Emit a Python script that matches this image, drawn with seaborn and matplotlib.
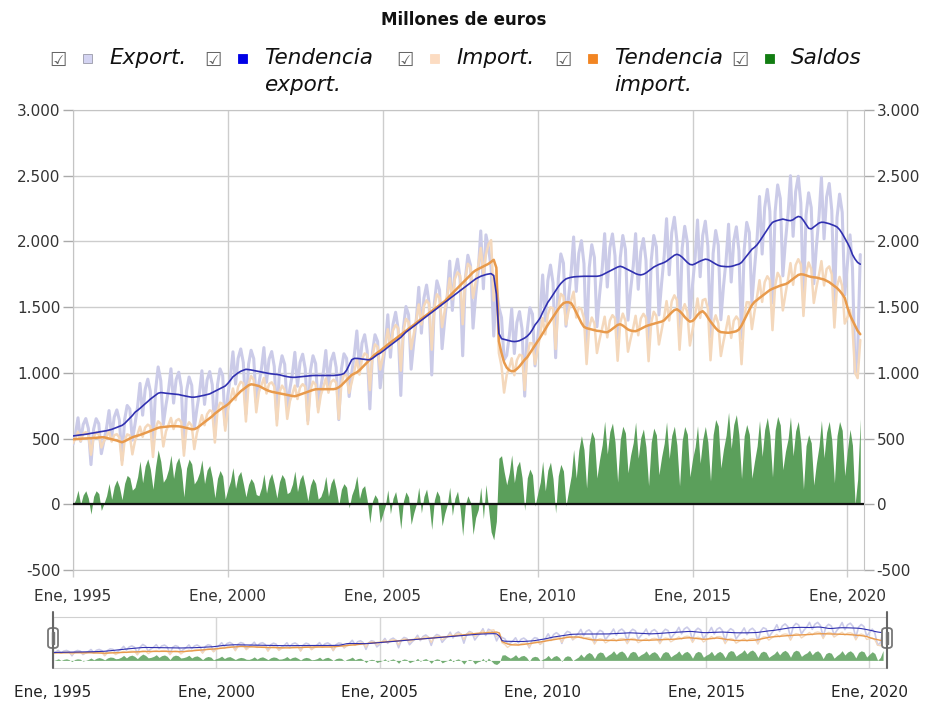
import pandas as pd
import numpy as np
import matplotlib.pyplot as plt
import matplotlib.dates as mdates
import seaborn as sns
from matplotlib.patches import Rectangle, FancyBboxPatch
from matplotlib.lines import Line2D
from matplotlib.ticker import FuncFormatter

# Datos mensuales en millones de euros, enero 1995 - junio 2020
export_mensual = [
    457, 544, 658, 479, 607, 652, 578, 302, 571, 651, 613, 385,
    486, 583, 713, 515, 663, 718, 640, 335, 646, 752, 725, 488,
    610, 745, 920, 678, 875, 952, 860, 475, 870, 1045, 940, 608,
    755, 873, 1031, 770, 948, 1005, 890, 426, 862, 968, 905, 575,
    728, 852, 1016, 760, 945, 1010, 910, 520, 910, 1030, 980, 600,
    830, 975, 1160, 915, 1110, 1182, 1080, 687, 1065, 1172, 1108, 774,
    920, 1036, 1192, 928, 1105, 1162, 1050, 648, 1025, 1130, 1065, 731,
    878, 996, 1156, 898, 1080, 1142, 1034, 636, 1018, 1130, 1070, 740,
    890, 1010, 1170, 910, 1090, 1150, 1042, 644, 1028, 1145, 1110, 820,
    1001, 1143, 1319, 1031, 1226, 1290, 1166, 726, 1154, 1290, 1239, 886,
    1048, 1219, 1442, 1119, 1368, 1461, 1333, 828, 1342, 1505, 1442, 1028,
    1229, 1412, 1651, 1302, 1569, 1668, 1529, 984, 1531, 1700, 1631, 1184,
    1400, 1595, 1850, 1475, 1760, 1865, 1715, 1130, 1715, 1895, 1820, 1340,
    1590, 1780, 2080, 1640, 2050, 1950, 1800, 1280, 1650, 1500, 1420, 1100,
    1133, 1284, 1487, 1147, 1383, 1466, 1333, 823, 1332, 1495, 1447, 1053,
    1255, 1465, 1745, 1395, 1702, 1820, 1685, 1115, 1715, 1905, 1835, 1355,
    1578, 1775, 2034, 1620, 1909, 2006, 1831, 1191, 1799, 1975, 1879, 1351,
    1594, 1793, 2059, 1653, 1951, 2057, 1891, 1261, 1875, 2045, 1939, 1401,
    1631, 1813, 2059, 1636, 1921, 2022, 1856, 1231, 1854, 2045, 1959, 1441,
    1679, 1891, 2173, 1746, 2067, 2184, 2004, 1317, 1948, 2115, 1993, 1417,
    1669, 1881, 2163, 1731, 2045, 2154, 1964, 1274, 1908, 2083, 1971, 1404,
    1657, 1859, 2131, 1691, 2002, 2111, 1929, 1262, 1933, 2145, 2068, 1532,
    1793, 2029, 2342, 1904, 2258, 2396, 2228, 1533, 2226, 2430, 2327, 1738,
    2003, 2214, 2500, 2039, 2378, 2496, 2293, 1548, 2202, 2370, 2257, 1678,
    1963, 2194, 2488, 2019, 2338, 2441, 2236, 1508, 2182, 2360, 2222, 1593,
    1830, 2050, 1800, 1000, 1150, 1900,
]

import_mensual = [
    465, 508, 551, 480, 536, 549, 532, 377, 511, 548, 532, 432,
    480, 517, 554, 477, 526, 533, 508, 300, 486, 532, 524, 380,
    482, 536, 591, 514, 584, 606, 593, 360, 581, 631, 614, 440,
    555, 606, 657, 573, 636, 649, 625, 370, 587, 624, 599, 420,
    542, 610, 678, 602, 685, 715, 708, 470, 713, 773, 765, 560,
    715, 798, 881, 793, 894, 932, 920, 630, 914, 976, 946, 700,
    855, 908, 961, 843, 916, 928, 897, 600, 853, 903, 872, 650,
    783, 842, 903, 801, 889, 914, 895, 610, 873, 933, 911, 700,
    831, 894, 957, 849, 930, 948, 925, 650, 914, 988, 981, 848,
    930, 1017, 1103, 987, 1106, 1148, 1135, 869, 1131, 1217, 1199, 1025,
    1120, 1226, 1332, 1191, 1323, 1364, 1340, 1017, 1318, 1411, 1387, 1181,
    1295, 1408, 1521, 1368, 1509, 1552, 1525, 1176, 1499, 1598, 1571, 1348,
    1470, 1595, 1720, 1560, 1715, 1765, 1740, 1370, 1720, 1830, 1805, 1570,
    1690, 1820, 1950, 1750, 1900, 1980, 2010, 1550, 1780, 1150, 1050, 850,
    985, 1042, 1111, 982, 1096, 1138, 1130, 869, 1131, 1227, 1224, 1067,
    1175, 1296, 1417, 1293, 1443, 1499, 1490, 1182, 1498, 1601, 1582, 1368,
    1472, 1556, 1617, 1421, 1498, 1484, 1415, 1067, 1348, 1421, 1377, 1151,
    1253, 1340, 1427, 1270, 1398, 1439, 1415, 1092, 1383, 1451, 1397, 1161,
    1257, 1344, 1434, 1286, 1413, 1449, 1420, 1089, 1381, 1465, 1432, 1216,
    1320, 1428, 1546, 1398, 1544, 1590, 1554, 1176, 1464, 1523, 1461, 1208,
    1325, 1443, 1566, 1418, 1553, 1562, 1490, 1096, 1379, 1438, 1376, 1128,
    1238, 1334, 1431, 1266, 1396, 1429, 1400, 1066, 1414, 1538, 1536, 1333,
    1465, 1585, 1705, 1540, 1690, 1735, 1705, 1325, 1663, 1761, 1724, 1475,
    1600, 1715, 1835, 1670, 1820, 1865, 1825, 1433, 1757, 1840, 1790, 1532,
    1650, 1750, 1850, 1665, 1790, 1810, 1750, 1345, 1660, 1730, 1660, 1375,
    1420, 1480, 1350, 1000, 960, 1250,
]

tendencia_export = [
    520, 523, 525, 528, 530, 533, 536, 540, 543, 546, 550, 553,
    556, 560, 565, 570, 577, 585, 593, 600, 615, 635, 655, 675,
    700, 715, 730, 748, 765, 782, 800, 815, 830, 845, 850, 848,
    845, 843, 841, 840, 838, 835, 830, 826, 822, 818, 815, 815,
    818, 822, 826, 830, 835, 840, 850, 860, 870, 880, 890, 900,
    920, 945, 970, 985, 1000, 1012, 1020, 1027, 1025, 1022, 1018, 1014,
    1010, 1006, 1002, 998, 995, 992, 990, 988, 985, 980, 975, 971,
    968, 966, 966, 968, 970, 972, 974, 976, 978, 980, 980, 980,
    980, 980, 980, 980, 980, 980, 982, 984, 988, 995, 1020, 1060,
    1100, 1110, 1110, 1108, 1105, 1103, 1100, 1100, 1110, 1125, 1140, 1150,
    1165, 1180, 1195, 1210, 1225, 1240, 1255, 1270, 1290, 1310, 1325, 1340,
    1355, 1370, 1385, 1400, 1415, 1430, 1445, 1460, 1475, 1490, 1505, 1520,
    1535, 1550, 1565, 1580, 1595, 1610, 1625, 1640, 1655, 1670, 1685, 1700,
    1715, 1725, 1735, 1742, 1748, 1752, 1755, 1740, 1600, 1300, 1260, 1255,
    1250, 1245, 1240, 1238, 1240, 1245, 1255, 1265, 1280, 1300, 1330, 1365,
    1390, 1420, 1460, 1500, 1537, 1565, 1595, 1625, 1655, 1680, 1700, 1715,
    1722, 1727, 1730, 1732, 1733, 1734, 1735, 1735, 1735, 1735, 1735, 1735,
    1738, 1745, 1755, 1765, 1775, 1785, 1795, 1805, 1811, 1805, 1795, 1785,
    1775, 1765, 1755, 1748, 1745, 1750, 1760, 1775, 1790, 1805, 1815, 1825,
    1832, 1840, 1850, 1865, 1880, 1895, 1902, 1895, 1880, 1860, 1840, 1825,
    1822, 1830, 1840, 1850, 1858, 1865, 1862, 1852, 1840, 1828, 1818, 1812,
    1810, 1808, 1808, 1810, 1815, 1822, 1827, 1840, 1865, 1890, 1915, 1940,
    1955, 1975, 2000, 2030, 2060, 2090, 2120, 2145, 2154, 2160, 2165, 2170,
    2165, 2160, 2158, 2165, 2180, 2190, 2185, 2160, 2130, 2100, 2095, 2110,
    2125, 2140, 2146, 2145, 2140, 2135, 2128, 2120, 2110, 2090, 2060, 2025,
    1990, 1950, 1900, 1865, 1840, 1827,
]

tendencia_import = [
    495, 496, 497, 498, 500, 501, 502, 503, 505, 506, 508, 510,
    510, 505, 500, 495, 490, 485, 478, 472, 480, 490, 500, 510,
    517, 522, 528, 535, 542, 550, 558, 566, 574, 582, 586, 588,
    590, 592, 594, 594, 594, 593, 590, 585, 580, 575, 571, 572,
    580, 595, 610, 625, 640, 655, 670, 690, 705, 720, 735, 746,
    760, 780, 800, 820, 840, 860, 875, 890, 905, 913, 910, 905,
    900, 890, 880, 870, 862, 856, 852, 848, 844, 840, 836, 832,
    828, 824, 822, 828, 835, 842, 850, 857, 864, 870, 875, 876,
    876, 876, 876, 876, 876, 876, 880, 890, 905, 925, 945, 965,
    985, 995, 1004, 1020, 1040, 1060, 1080, 1100, 1120, 1140, 1155, 1168,
    1185, 1200, 1215, 1230, 1245, 1260, 1275, 1290, 1305, 1320, 1335, 1350,
    1365, 1380, 1395, 1410, 1425, 1440, 1455, 1470, 1485, 1500, 1515, 1530,
    1545, 1565, 1585, 1605, 1625, 1645, 1665, 1685, 1705, 1725, 1745, 1765,
    1780, 1790, 1800, 1810, 1820, 1830, 1845, 1860, 1800, 1240, 1150, 1080,
    1040, 1020, 1012, 1015, 1030, 1050, 1075, 1100, 1120, 1150, 1180, 1210,
    1240, 1270, 1300, 1332, 1365, 1395, 1425, 1455, 1485, 1510, 1530, 1537,
    1537, 1530, 1500, 1460, 1420, 1380, 1350, 1340, 1335, 1330, 1325, 1320,
    1318, 1314, 1310, 1309, 1320, 1335, 1350, 1365, 1370, 1360, 1345, 1330,
    1322, 1318, 1317, 1325, 1335, 1345, 1355, 1362, 1368, 1374, 1380, 1385,
    1390, 1400, 1420, 1440, 1460, 1478, 1484, 1470, 1450, 1425, 1405, 1390,
    1395, 1415, 1440, 1460, 1469, 1450, 1420, 1390, 1365, 1340, 1320, 1310,
    1308, 1306, 1305, 1308, 1312, 1317, 1330, 1360, 1400, 1440, 1480, 1515,
    1540, 1555, 1570, 1585, 1600, 1615, 1630, 1640, 1648, 1656, 1664, 1670,
    1675, 1685, 1700, 1715, 1730, 1745, 1750, 1748, 1742, 1735, 1730, 1727,
    1725, 1720, 1715, 1710, 1700, 1690, 1675, 1660, 1645, 1625, 1600, 1570,
    1500, 1440, 1400, 1360, 1320, 1294,
]

anios_ticks = [1995, 2000, 2005, 2010, 2015, 2020]
etiquetas_x = ["Ene, %d" % a for a in anios_ticks]
y_ticks = [-500, 0, 500, 1000, 1500, 2000, 2500, 3000]

series_leyenda = ["Export.", "Tendencia\nexport.", "Import.", "Tendencia\nimport.", "Saldos"]

fechas = pd.date_range("1995-01-01", periods=len(export_mensual), freq="MS")
df = pd.DataFrame({
    "fecha": fechas,
    "export": export_mensual,
    "import": import_mensual,
    "tend_export": tendencia_export,
    "tend_import": tendencia_import,
})
df["saldo"] = df["export"] - df["import"]

c_export = "#cbcbe8"
c_tend_export = "#3030b0"
c_import = "#f4d8bc"
c_tend_import = "#e89a4c"
c_saldo = "#5b9f5b"
colores_leyenda = ["#d4d4f2", "#0000e6", "#fcdcc2", "#f28522", "#127d12"]

sns.set_style("white")
plt.rcParams["font.family"] = ["DejaVu Sans"]

W, H = 927, 702
fig = plt.figure(figsize=(W / 100, H / 100), dpi=100)


def fx(x):
    return x / W


def fy(y):
    return 1 - y / H


x_ini = pd.Timestamp("1995-01-01")
x_fin = pd.Timestamp("2020-07-15")
pos_ticks = [mdates.date2num(pd.Timestamp("%d-01-01" % a)) for a in anios_ticks]
miles = FuncFormatter(lambda v, p: "{:,.0f}".format(v).replace(",", "."))

# grafico principal
ax = fig.add_axes([fx(73), fy(570), fx(864 - 73), (570 - 110) / H])
ax.fill_between(df["fecha"], 0, df["saldo"], color=c_saldo, lw=0, zorder=2)
sns.lineplot(data=df, x="fecha", y="export", ax=ax, color=c_export, lw=2.2, zorder=3)
sns.lineplot(data=df, x="fecha", y="import", ax=ax, color=c_import, lw=1.8, zorder=3)
sns.lineplot(data=df, x="fecha", y="tend_import", ax=ax, color=c_tend_import, lw=1.8, zorder=4)
sns.lineplot(data=df, x="fecha", y="tend_export", ax=ax, color=c_tend_export, lw=1.2, zorder=5)
ax.axhline(0, color="#111111", lw=1.6, zorder=6)

ax.set_xlim(x_ini, x_fin)
ax.set_ylim(-500, 3000)
ax.set_xticks(pos_ticks)
ax.set_xticklabels(etiquetas_x)
ax.set_yticks(y_ticks)
ax.yaxis.set_major_formatter(miles)
ax.set_xlabel("")
ax.set_ylabel("")
ax.grid(True, color="#cdcdcd", lw=1, zorder=0)
ax.set_axisbelow(True)
for s in ax.spines.values():
    s.set_color("#c4c4c4")
ax.tick_params(axis="y", which="both", left=True, right=True, labelleft=True, labelright=True,
               length=7, width=1, color="#aaaaaa", pad=2, labelsize=11, labelcolor="#333333")
ax.tick_params(axis="x", bottom=True, length=5, width=1, color="#cdcdcd", pad=9,
               labelsize=11, labelcolor="#333333")

# navegador inferior
nav = fig.add_axes([fx(53), fy(668), fx(887 - 53), (668 - 617) / H])
nav.fill_between(df["fecha"], 0, df["saldo"], color=c_saldo, alpha=0.85, lw=0)
sns.lineplot(data=df, x="fecha", y="export", ax=nav, color=c_export, lw=1.2)
sns.lineplot(data=df, x="fecha", y="import", ax=nav, color=c_import, lw=1.0)
sns.lineplot(data=df, x="fecha", y="tend_import", ax=nav, color=c_tend_import, lw=1.0)
sns.lineplot(data=df, x="fecha", y="tend_export", ax=nav, color=c_tend_export, lw=0.8)
nav.set_xlim(x_ini, x_fin)
nav.set_ylim(-500, 2850)
nav.set_xticks(pos_ticks)
nav.set_xticklabels(etiquetas_x)
nav.set_yticks([])
nav.set_xlabel("")
nav.set_ylabel("")
nav.grid(True, axis="x", color="#d6d6d6", lw=1)
nav.set_axisbelow(True)
nav.spines["left"].set_visible(False)
nav.spines["right"].set_visible(False)
nav.spines["top"].set_color("#d0d0d0")
nav.spines["bottom"].set_color("#d0d0d0")
nav.tick_params(axis="x", length=0, pad=12, labelsize=11, labelcolor="#222222")

# asas del navegador
for xh in [53, 887]:
    fig.add_artist(Line2D([fx(xh), fx(xh)], [fy(612), fy(668)], color="#666666", lw=1.5,
                          transform=fig.transFigure))
    fig.add_artist(FancyBboxPatch((fx(xh - 5), fy(648)), fx(10), 20 / H,
                                  boxstyle="round,pad=0,rounding_size=0.004",
                                  facecolor="white", edgecolor="#777777", lw=1.3,
                                  transform=fig.transFigure))
    fig.add_artist(Line2D([fx(xh - 1), fx(xh - 1)], [fy(644), fy(632)], color="#777777", lw=1,
                          transform=fig.transFigure))
    fig.add_artist(Line2D([fx(xh + 1), fx(xh + 1)], [fy(644), fy(632)], color="#777777", lw=1,
                          transform=fig.transFigure))

# titulo
fig.text(0.5, fy(20), "Millones de euros", ha="center", va="center",
         fontsize=12, fontweight="bold", color="#111111")

# leyenda con casillas
pos_leyenda = [58, 213, 405, 563, 740]
for xc, texto, col in zip(pos_leyenda, series_leyenda, colores_leyenda):
    fig.text(fx(xc), fy(60), "\u2611", ha="center", va="center", fontsize=14, color="#666666")
    fig.add_artist(Rectangle((fx(xc + 25), fy(63)), fx(9), 9 / H, facecolor=col,
                             edgecolor="#9a9aa8" if col == colores_leyenda[0] else col,
                             lw=0.6, transform=fig.transFigure))
    for k, linea in enumerate(texto.split("\n")):
        fig.text(fx(xc + 51), fy(58 + 27 * k), linea, ha="left", va="center", fontsize=15.5,
                 style="italic", color="#111111")

fig.savefig("out.png", dpi=100)
